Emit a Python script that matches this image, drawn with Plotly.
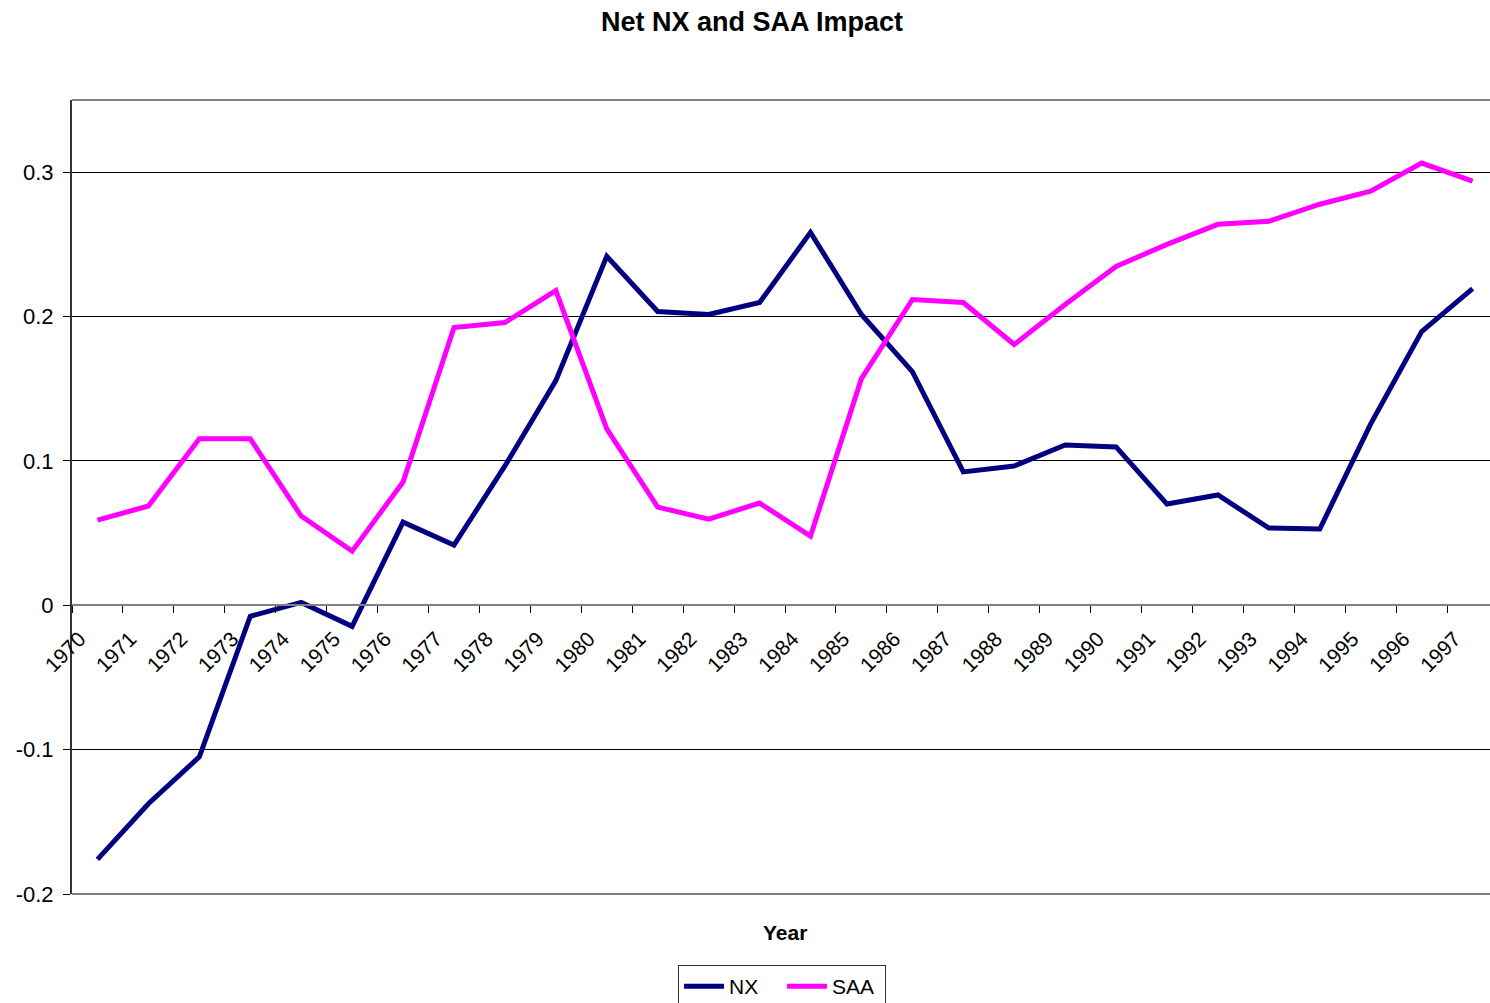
import plotly.graph_objects as go

years = [str(y) for y in range(1970, 1998)]
nx = [-0.176, -0.1375, -0.105, -0.0076, 0.002, -0.0146, 0.0576, 0.0417, 0.0965, 0.1556,
      0.2417, 0.2035, 0.2014, 0.2097, 0.2583, 0.2014, 0.1618, 0.0924, 0.0965, 0.111,
      0.1097, 0.0701, 0.0764, 0.0535, 0.0528, 0.1257, 0.1896, 0.2194]
saa = [0.059, 0.0688, 0.1153, 0.1153, 0.0618, 0.0375, 0.0854, 0.1924, 0.1958, 0.218,
       0.1222, 0.068, 0.0597, 0.0708, 0.0479, 0.157, 0.2118, 0.2097, 0.1806, 0.2083,
       0.2347, 0.25, 0.2639, 0.266, 0.2778, 0.2868, 0.3063, 0.2938]
y_ticks = [-0.2, -0.1, 0, 0.1, 0.2, 0.3]
y_tick_text = ["-0.2", "-0.1", "0", "0.1", "0.2", "0.3"]

FONT = "Liberation Sans, Arial, sans-serif"
W, H = 1490, 1003
ML, MR, MT, MB = 72, 0, 100, 109
ymin, ymax = -0.2, 0.35
PW = W - ML - MR
PH = H - MT - MB
CAT_W = 50.93  # px per category in the reference; plot area extends slightly past the canvas
x_end = -0.5 + PW / CAT_W

fig = go.Figure()
fig.add_trace(go.Scatter(x=years, y=nx, mode="lines", name="NX",
                         line=dict(color="#000080", width=5)))
fig.add_trace(go.Scatter(x=years, y=saa, mode="lines", name="SAA",
                         line=dict(color="#FF00FF", width=5)))

zero_pos = (0 - ymin) / (ymax - ymin)

fig.update_layout(
    width=W, height=H, autosize=False,
    margin=dict(l=ML, r=MR, t=MT, b=MB),
    paper_bgcolor="white", plot_bgcolor="white",
    font=dict(family=FONT, size=21, color="black"),
    title=dict(text="<b>Net NX and SAA Impact</b>", font=dict(size=27, family=FONT, color="black"),
               xref="paper", x=(752 - ML) / PW, xanchor="center",
               yref="container", y=1 - 22 / H, yanchor="middle"),
    xaxis=dict(type="category", categoryorder="array", categoryarray=years,
               range=[-0.5, x_end],
               anchor="free", position=zero_pos,
               showline=True, linecolor="#808080", linewidth=2,
               ticks="outside", ticklen=7, tickcolor="black", tickson="boundaries",
               tickangle=-45, showgrid=False, zeroline=False,
               ticklabelshift=-18, ticklabelstandoff=12,
               tickfont=dict(size=21, family=FONT, color="black")),
    yaxis=dict(range=[ymin, ymax], tickvals=y_ticks, ticktext=y_tick_text,
               showline=True, linecolor="#333333", linewidth=2,
               ticks="outside", ticklen=7, tickcolor="black", ticklabelstandoff=5,
               showgrid=True, gridcolor="black", gridwidth=1, zeroline=False,
               tickfont=dict(size=22, family=FONT, color="black")),
    legend=dict(orientation="h", x=(678 - ML) / PW, xanchor="left",
                yref="container", y=(H - 965) / H, yanchor="top",
                bordercolor="#333333", borderwidth=1, bgcolor="white",
                font=dict(size=21, family=FONT, color="black"),
                itemwidth=40, entrywidth=48, entrywidthmode="pixels", tracegroupgap=0),
    showlegend=True,
    shapes=[
        dict(type="line", xref="paper", yref="paper", x0=0, x1=1, y0=1, y1=1,
             line=dict(color="#808080", width=2)),
        dict(type="line", xref="paper", yref="paper", x0=0, x1=1, y0=0, y1=0,
             line=dict(color="#808080", width=2)),
    ],
    annotations=[
        dict(text="<b>Year</b>", xref="paper", yref="paper",
             x=(785 - ML) / PW, y=(894 - 932) / PH,
             xanchor="center", yanchor="middle", showarrow=False,
             font=dict(size=21, family=FONT, color="black")),
    ],
)

fig.write_html("out.html",
               config={"responsive": False, "displayModeBar": False},
               post_script="document.body.style.margin='0';document.documentElement.style.overflow='hidden';document.body.style.overflow='hidden';")
